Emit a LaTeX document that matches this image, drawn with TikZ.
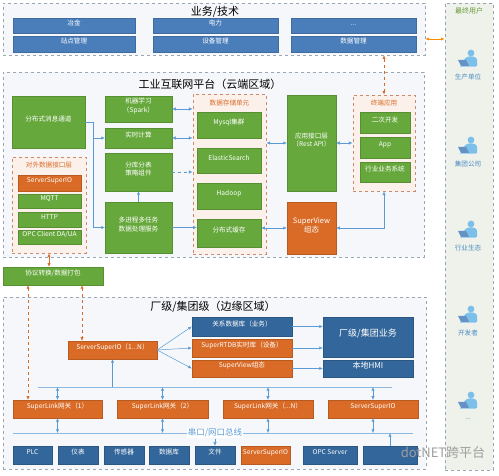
\documentclass[tikz,border=0pt]{standalone}
\usepackage{fontspec}
\setmainfont{Noto Sans CJK SC}
\usetikzlibrary{arrows.meta,fit,shadows}

\definecolor{topblue}{HTML}{4A7EBB}
\definecolor{edgeblue}{HTML}{33669A}
\definecolor{boxgreen}{HTML}{66A83C}
\definecolor{boxorange}{HTML}{D96B26}
\definecolor{linkblue}{HTML}{5B9BD5}
\definecolor{zonegray}{HTML}{9AA6B2}
\definecolor{zonefill}{HTML}{F5F7FA}
\definecolor{unitline}{HTML}{C98B6B}
\definecolor{unitfill}{HTML}{FBF0EA}
\definecolor{userfill}{HTML}{EEF2EA}
\definecolor{usertext}{HTML}{4A8AC4}
\definecolor{usergreen}{HTML}{6A9A3A}
\definecolor{userbody}{HTML}{7CC0EA}

\newcommand\usermore{...}

\tikzset{
  box/.style={rectangle, inner sep=0pt, text=white, align=center,
    font=\fontsize{6.6}{8.5}\selectfont,
    drop shadow={opacity=0.25, shadow xshift=0.7pt, shadow yshift=-0.7pt}},
  tbox/.style={box, fill=topblue, draw=topblue!85!black, line width=0.3pt},
  ebox/.style={box, fill=edgeblue, draw=edgeblue!85!black, line width=0.3pt},
  gbox/.style={box, fill=boxgreen, draw=boxgreen!85!black, line width=0.3pt},
  obox/.style={box, fill=boxorange, draw=boxorange!85!black, line width=0.3pt},
  zone/.style={rectangle, inner sep=0pt, draw=zonegray, dashed, fill=zonefill, line width=0.6pt},
  unit/.style={rectangle, inner sep=0pt, draw=unitline, dashed, fill=unitfill, line width=0.9pt},
  zonetitle/.style={font=\fontsize{11}{13}\selectfont},
  unittitle/.style={text=boxorange, font=\fontsize{6.6}{8}\selectfont},
  tip/.style={-{Latex[length=3.6pt,width=3.2pt]}},
  link/.style={draw=linkblue, line width=0.5pt, tip},
  dlink/.style={draw=linkblue, line width=0.5pt, {Latex[length=3.6pt,width=3.2pt]}-{Latex[length=3.6pt,width=3.2pt]}},
  olink/.style={draw=boxorange, dashed, line width=0.6pt, {Latex[length=3.6pt,width=3.2pt]}-{Latex[length=3.6pt,width=3.2pt]}},
  bus/.style={draw=linkblue!70, line width=0.6pt},
  userlabel/.style={text=usertext, font=\fontsize{6.6}{8}\selectfont}
}

\begin{document}
\begin{tikzpicture}[x=1pt, y=-1pt]
  \useasboundingbox[fill=white] (0,0) rectangle (499,476);

  % zones
  \node[zone, fit={(3,3) (425,55)}] (biz) {};
  \node[zone, fit={(3,72) (424,257)}] (cloud) {};
  \node[zone, fit={(3,297) (426,469)}] (edge) {};
  \node[zone, fill=userfill, fit={(445,3) (493,470)}] (users) {};

  % business / technology
  \node[zonetitle] (bizt) at (215,12) {业务/技术};
  \node[tbox, fit={(13,18) (135,33)}] (yejin) {冶金};
  \node[tbox, fit={(13,36) (135,52)}] (site) {站点管理};
  \node[tbox, fit={(153,18) (278,33)}] (power) {电力};
  \node[tbox, fit={(153,36) (278,52)}] (device) {设备管理};
  \node[tbox, fit={(291,18) (416,33)}] (more) {...};
  \node[tbox, fit={(291,36) (416,52)}] (data) {数据管理};

  % cloud platform
  \node[zonetitle] (cloudt) at (210,84) {工业互联网平台（云端区域）};
  \node[gbox, fit={(12,96) (85,148)}] (msg) {分布式消息通道};
  \node[unit, fit={(12,157) (86,253)}] (iface) {};
  \node[unittitle] (ifacet) at (49,165) {对外数据接口层};
  \node[obox, fit={(18,175) (81,191)}] (sio) {ServerSuperIO};
  \node[gbox, fit={(18,194) (81,208)}] (mqtt) {MQTT};
  \node[gbox, fit={(18,212) (81,227)}] (http) {HTTP};
  \node[gbox, fit={(18,230) (81,244)}] (opc) {OPC Client DA/UA};

  \node[gbox, fit={(105,96) (172,122)}] (ml) {机器学习\\（Spark）};
  \node[gbox, fit={(105,128) (172,148)}] (calc) {实时计算};
  \node[gbox, fit={(105,153) (172,191)}] (shard) {分库分表\\策略组件};
  \node[gbox, fit={(105,202) (172,253)}] (proc) {多进程多任务\\数据处理服务};

  \node[unit, fit={(193,94) (266,254)}] (store) {};
  \node[unittitle] (storet) at (229.5,103) {数据存储单元};
  \node[gbox, fit={(197,112) (261,138)}] (mysql) {Mysql集群};
  \node[gbox, fit={(197,148) (261,173)}] (es) {ElasticSearch};
  \node[gbox, fit={(197,183) (261,209)}] (hadoop) {Hadoop};
  \node[gbox, fit={(197,219) (261,247)}] (cache) {分布式缓存};

  \node[gbox, fit={(287,95) (336,191)}] (api) {应用接口层\\（Rest API）};
  \node[obox, fit={(287,202) (336,254)}, font=\fontsize{7.5}{9.5}\selectfont] (view) {SuperView\\组态};

  \node[unit, fit={(353,95) (415,191)}] (term) {};
  \node[unittitle] (termt) at (384,103) {终端应用};
  \node[gbox, fit={(360,112) (410,133)}] (dev2) {二次开发};
  \node[gbox, fit={(360,137) (410,158)}] (app) {App};
  \node[gbox, fit={(360,162) (410,182)}] (trade) {行业业务系统};

  \draw[link] (msg.east) -- ++(8,0) |- (calc.west);
  \draw[link] (msg.east) -- ++(8,0) |- (proc.west);
  \draw[link] (proc.north) -- (shard.south);
  \draw[dlink] (ml.east) -- (ml.east -| store.west);
  \draw[dlink] (calc.east) -- (calc.east -| store.west);
  \draw[link, dashed] (shard.east) -- (shard.east -| store.west);
  \draw[link] (proc.east) -- (proc.east -| cache.west);
  \draw[dlink] (api.west -| store.east) -- (api.west);
  \draw[dlink] (api.east) -- (api.east -| term.west);
  \draw[dlink] (view.west -| cache.east) -- (view.west);
  \draw[dlink] (view.east) -| (term.south);
  \draw[olink] (term.north |- biz.south) -- (term.north);
  \draw[draw=orange!90!yellow, line width=0.8pt, {Latex[length=3.6pt,width=3.2pt]}-{Latex[length=3.6pt,width=3.2pt]}]
    ([yshift=-10pt]biz.east) -- ([yshift=-10pt]biz.east -| users.west);

  % protocol packing
  \node[gbox, fit={(3,267) (103,285)}] (pack) {协议转换/数据打包};
  \draw[olink, solid] (iface.south) -- (iface.south |- pack.north);

  % edge region
  \node[zonetitle] (edget) at (213,307) {厂级/集团级（边缘区域）};
  \node[obox, fit={(68,341) (157,359)}] (ssio) {ServerSuperIO（1...N）};
  \node[ebox, fit={(192,317) (292,336)}] (rdb) {关系数据库（业务）};
  \node[obox, fit={(192,339) (292,357)}] (rtdb) {SuperRTDB实时库（设备）};
  \node[obox, fit={(192,360) (292,377)}] (sview) {SuperView组态};
  \node[ebox, fit={(323,317) (413,357)}, font=\fontsize{9}{11}\selectfont] (plant) {厂级/集团业务};
  \node[ebox, fit={(323,360) (413,377)}, font=\fontsize{8}{10}\selectfont] (hmi) {本地HMI};

  \draw[link] (ssio.east) -- (rdb.west);
  \draw[link] (ssio.east) -- (rtdb.west);
  \draw[link] (ssio.east) -- (sview.west);
  \draw[link] (rdb.east) -- (rdb.east -| plant.west);
  \draw[link] (rtdb.east) -- (rtdb.east -| plant.west);
  \draw[link] (sview.east) -- (hmi.west);

  % gateways and buses
  \coordinate (busa-l) at (38,387);
  \coordinate (busa-r) at (392,387);
  \coordinate (busb-l) at (13,433);
  \coordinate (busb-r) at (413,433);
  \draw[bus] (busa-l) -- (busa-r);
  \draw[bus] (busb-l) -- (busb-r);
  \draw[link] (ssio.south |- busa-l) -- (ssio.south);

  \node[obox, fit={(13,400) (102,418)}] (gw1) {SuperLink网关（1）};
  \node[obox, fit={(117,400) (208,418)}] (gw2) {SuperLink网关（2）};
  \node[obox, fit={(223,400) (313,418)}] (gwn) {SuperLink网关（...N）};
  \node[obox, fit={(328,400) (418,418)}] (gws) {ServerSuperIO};
  \foreach \g in {gw1,gw2,gwn,gws}{
    \draw[dlink] (\g.north |- busa-l) -- (\g.north);
    \draw[dlink] (\g.south) -- (\g.south |- busb-l);
  }

  \draw[olink] ([xshift=-25pt]pack.south) -- ([xshift=-25pt]pack.south |- gw1.north);
  \draw[olink] ([xshift=29pt]pack.south) -- ([xshift=29pt]pack.south |- ssio.north);

  \node[fill=white, inner sep=1pt, text=linkblue, font=\fontsize{8.5}{9}\selectfont] (busname) at (215,433) {串口/网口总线};

  % sources
  \node[ebox, fit={(13,446) (52,464)}] (plc) {PLC};
  \node[ebox, fit={(58,446) (98,464)}] (meter) {仪表};
  \node[ebox, fit={(104,446) (144,464)}] (sensor) {传感器};
  \node[ebox, fit={(149,446) (189,464)}] (db) {数据库};
  \node[ebox, fit={(195,446) (235,464)}] (file) {文件};
  \node[obox, fit={(241,446) (290,464)}] (srcsio) {ServerSuperIO};
  \node[ebox, fit={(303,446) (357,464)}] (opcs) {OPC Server};
  \node[ebox, fit={(363,446) (417,464)}] (other) {};
  \draw[link] (busname.south) -- (file.north);
  \draw[link] (other.north) -- (other.north |- busb-l);

  % end users
  \node[text=usergreen, font=\fontsize{7}{8}\selectfont] (userst) at (469,11) {最终用户};
  \foreach \y/\who [count=\i] in {58/生产单位, 145/集团公司, 229/行业生态, 314/开发者, 400/\usermore}{
    \fill[userbody] (471,\y-5) circle (3.4);
    \fill[userbody] (464,\y+3) .. controls (464,\y-3) and (477,\y-3) .. (477,\y+2) -- (477,\y+8) -- (464,\y+8) -- cycle;
    \fill[topblue!85] (458,\y+2) -- (466,\y+2) -- (469,\y+8) -- (461,\y+8) -- cycle;
    \fill[userbody!70!white] (460,\y+8) -- (476,\y+8) -- (476,\y+9.5) -- (460,\y+9.5) -- cycle;
    \node[userlabel] (user\i) at (468,\y+19) {\who};
  }

  % watermark
  \node[text=gray!75, font=\fontsize{13}{13}\selectfont] (mark) at (443,453) {dotNET跨平台};
\end{tikzpicture}
\end{document}
